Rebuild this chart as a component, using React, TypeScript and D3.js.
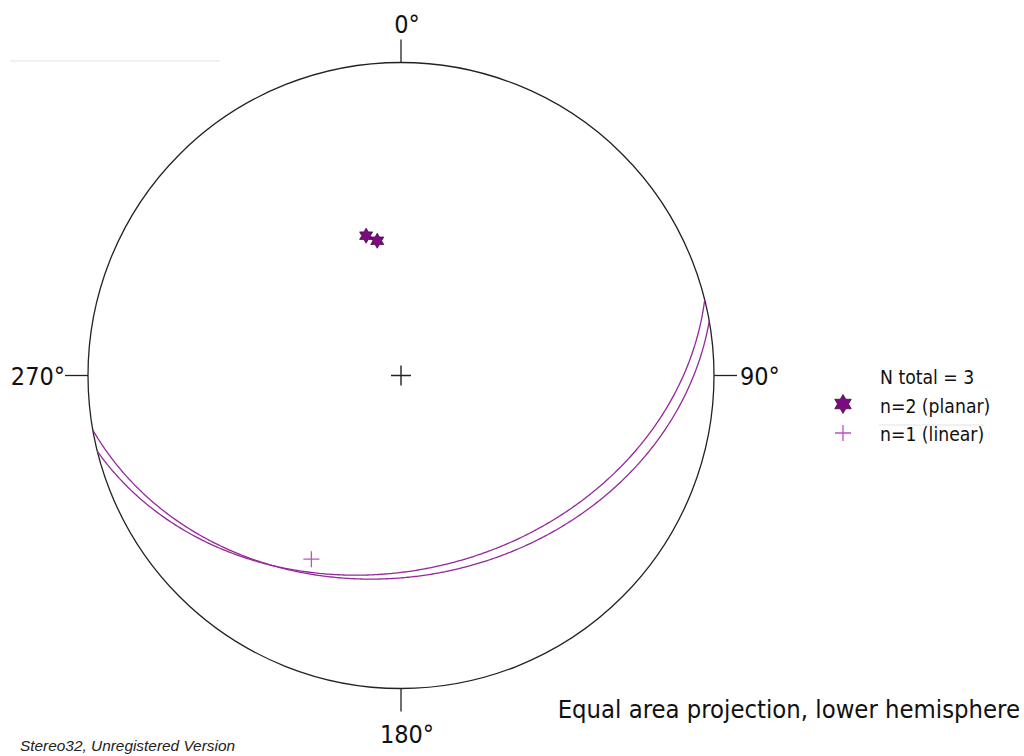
import React, {useEffect, useRef} from 'react';
import * as d3 from 'd3';

// planes: dip direction / dip (degrees)
const planeNames = ['plane A', 'plane B'];
const dipDirections = [166, 170];
const dips = [38, 36];

// lineation: trend / plunge
const lineTrends = [206];
const linePlunges = [35];

const compassLabels = ['0°', '90°', '180°', '270°'];
const compassAngles = [0, 90, 180, 270];

const legendLabels = ['N total = 3', 'n=2 (planar)', 'n=1 (linear)'];
const titleText = 'Equal area projection, lower hemisphere';
const footerText = 'Stereo32, Unregistered Version';

const App = () => {
  const svgRef = useRef(null);

  useEffect(() => {
    const W = 1024, H = 756;
    const cx = 401, cy = 375.5, R = 313;
    const rad = Math.PI / 180;
    const font = '"DejaVu Sans Condensed", "DejaVu Sans", sans-serif';
    const lineCol = '#93299b';

    const svg = d3.select(svgRef.current);
    svg.selectAll('*').remove();
    svg.attr('width', W).attr('height', H);

    // equal area: r = R * sqrt(1 - sin(plunge))
    const rScale = d3.scaleSqrt().domain([0, 1]).range([0, R]);
    const project = (az, pl) => {
      const r = rScale(1 - Math.sin(pl * rad));
      return [cx + r * Math.sin(az * rad), cy - r * Math.cos(az * rad)];
    };

    svg.append('rect').attr('width', W).attr('height', H).attr('fill', '#fff');

    // faint artefact lines
    svg.append('line').attr('x1', 10).attr('x2', 220).attr('y1', 61).attr('y2', 61)
      .attr('stroke', '#e4e4e4').attr('stroke-width', 1.2);
    svg.append('line').attr('x1', 879).attr('x2', 984).attr('y1', 425).attr('y2', 425)
      .attr('stroke', '#e4e4e4').attr('stroke-width', 1.2);

    // primitive
    svg.append('circle').attr('cx', cx).attr('cy', cy).attr('r', R)
      .attr('fill', 'none').attr('stroke', '#222').attr('stroke-width', 1.3);

    // ticks and labels
    const tickLen = 23;
    compassAngles.forEach((a, i) => {
      const s = Math.sin(a * rad), c = Math.cos(a * rad);
      svg.append('line')
        .attr('x1', cx + R * s).attr('y1', cy - R * c)
        .attr('x2', cx + (R + tickLen) * s).attr('y2', cy - (R + tickLen) * c)
        .attr('stroke', '#222').attr('stroke-width', 1.3);
      const t = svg.append('text').text(compassLabels[i])
        .attr('font-family', font).attr('font-size', 25).attr('fill', '#111');
      if (a === 0) t.attr('x', cx + 6).attr('y', 33).attr('text-anchor', 'middle');
      if (a === 180) t.attr('x', cx + 6).attr('y', 743).attr('text-anchor', 'middle');
      if (a === 90) t.attr('x', 740).attr('y', 385).attr('text-anchor', 'start');
      if (a === 270) t.attr('x', 65).attr('y', 385).attr('text-anchor', 'end');
    });

    // centre cross
    svg.append('path').attr('d', `M${cx - 10},${cy}H${cx + 10}M${cx},${cy - 10}V${cy + 10}`)
      .attr('stroke', '#222').attr('stroke-width', 1.4);

    // great circles
    const line = d3.line();
    planeNames.forEach((name, i) => {
      const pts = d3.range(-90, 90.01, 0.5).map(b => {
        const p = Math.atan(Math.tan(dips[i] * rad) * Math.cos(b * rad)) / rad;
        return project(dipDirections[i] + b, p);
      });
      svg.append('path').attr('d', line(pts)).attr('fill', 'none')
        .attr('stroke', lineCol).attr('stroke-width', 1.3);
    });

    // hexagram path
    const hexagram = (x, y, ro) => {
      const ri = ro / Math.sqrt(3);
      const pts = d3.range(12).map(k => {
        const r = k % 2 === 0 ? ro : ri;
        const a = k * 30 * rad;
        return [x + r * Math.sin(a), y - r * Math.cos(a)];
      });
      return line(pts) + 'Z';
    };

    // poles
    planeNames.forEach((name, i) => {
      const [px, py] = project(dipDirections[i] + 180, 90 - dips[i]);
      svg.append('path').attr('d', hexagram(px, py, 7.5))
        .attr('fill', '#7d0a80').attr('stroke', '#3c1040').attr('stroke-width', 0.8);
    });

    // lineations
    lineTrends.forEach((tr, i) => {
      const [px, py] = project(tr, linePlunges[i]);
      svg.append('path').attr('d', `M${px - 8},${py}H${px + 8}M${px},${py - 8}V${py + 8}`)
        .attr('stroke', '#b15ab5').attr('stroke-width', 1.3);
    });

    // legend
    const lx = 880;
    legendLabels.forEach((l, i) => {
      svg.append('text').text(l).attr('x', lx).attr('y', 384 + i * 28.5)
        .attr('font-family', font).attr('font-size', 19.2).attr('fill', '#111');
    });
    svg.append('path').attr('d', hexagram(843, 404, 9.5))
      .attr('fill', '#7d0a80').attr('stroke', '#3c1040').attr('stroke-width', 0.8);
    svg.append('path').attr('d', `M${835},${433}H${851}M${843},${425}V${441}`)
      .attr('stroke', '#c04fc4').attr('stroke-width', 1.3);

    // titles
    svg.append('text').text(titleText).attr('x', 1020).attr('y', 718)
      .attr('text-anchor', 'end').attr('font-family', font).attr('font-size', 25.4).attr('fill', '#111');
    svg.append('text').text(footerText).attr('x', 20).attr('y', 751)
      .attr('font-family', '"Liberation Sans", Arial, sans-serif').attr('font-style', 'italic')
      .attr('font-size', 15.4).attr('fill', '#222');
  }, []);

  return (
    <svg ref={svgRef} style={{position: 'absolute', left: 0, top: 0, display: 'block'}} />
  );
};

export default App;
